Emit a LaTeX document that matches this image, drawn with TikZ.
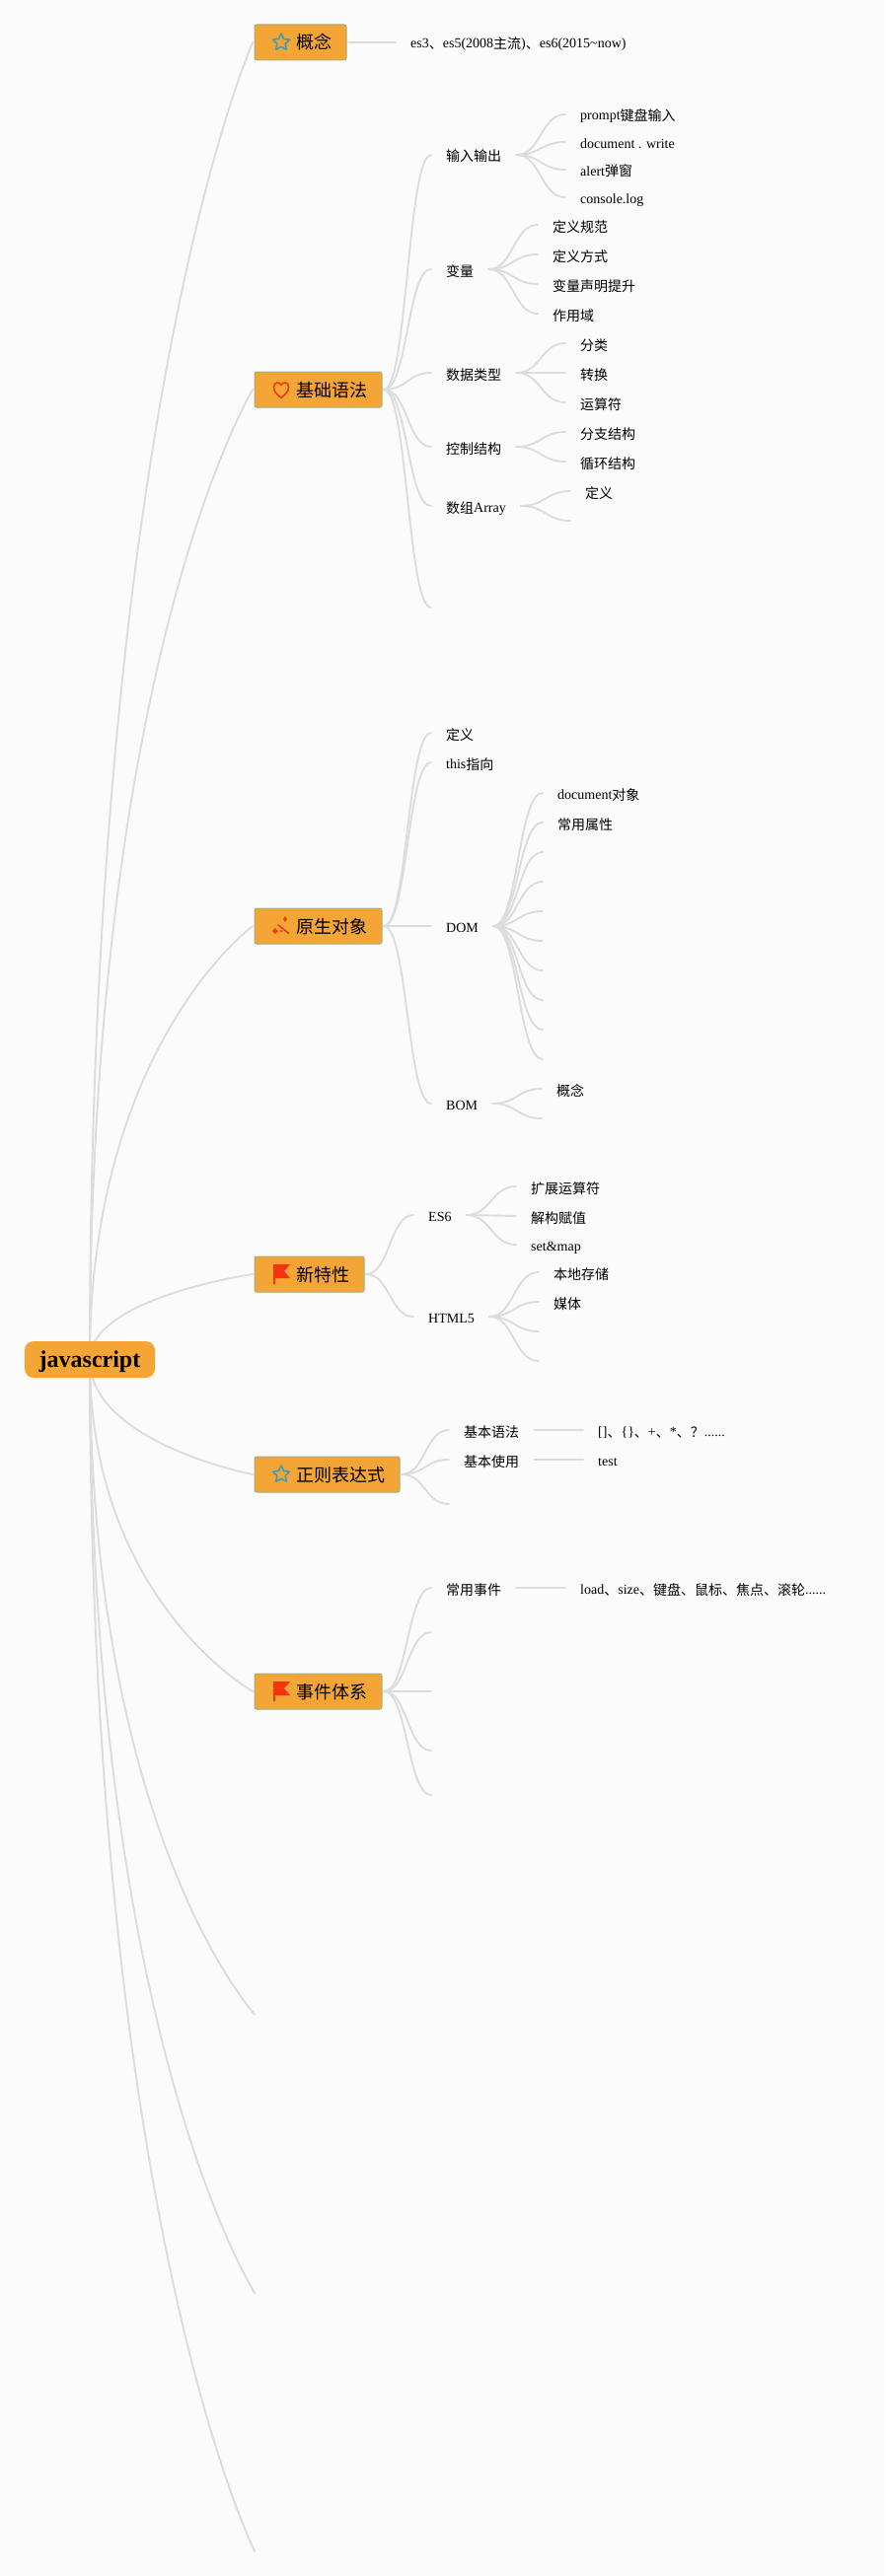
\documentclass[tikz,border=0pt]{standalone}
\usepackage{fontspec}
\setmainfont{Liberation Serif}
\newfontfamily\cjk{Noto Sans CJK SC}
\usetikzlibrary{calc,backgrounds}
\newcommand{\CJ}[1]{\raisebox{-1pt}{\cjk #1}}
\newcommand{\CT}[1]{{\cjk #1}}
\definecolor{pagebg}{HTML}{FBFBFB}
\definecolor{linkc}{HTML}{DCDCDC}
\definecolor{boxfill}{HTML}{F5A535}
\definecolor{boxedge}{HTML}{9CAF7E}
\definecolor{starc}{HTML}{3F9DB0}
\definecolor{redc}{HTML}{E5430E}
\definecolor{flagc}{HTML}{F5330F}
\tikzset{
  link/.style={draw=linkc,line width=1.9pt,line cap=round},
  txt/.style={anchor=west,inner xsep=15pt,inner ysep=0pt,text height=12pt,text depth=0pt,
    font=\fontsize{14}{16}\selectfont},
  topic/.style={anchor=west,draw=boxedge,fill=boxfill,line width=1pt,rounded corners=2pt,
    minimum height=36pt,inner xsep=0pt,inner ysep=0pt,outer xsep=2pt,text height=14pt,text depth=0pt,
    font=\fontsize{18}{20}\selectfont},
  rootbox/.style={fill=boxfill,rounded corners=9pt,minimum height=37pt,inner xsep=14.7pt,inner ysep=0pt,
    text height=16pt,text depth=0pt,font=\fontsize{24}{26}\selectfont\bfseries},
  staricon/.pic={\draw[starc,line width=1.6pt,line join=round]
    (0,-9)--(2.59,-3.56)--(8.56,-2.78)--(4.18,1.36)--(5.29,7.28)--(0,4.4)--(-5.29,7.28)--(-4.18,1.36)--(-8.56,-2.78)--(-2.59,-3.56)--cycle;},
  hearticon/.pic={\draw[redc,line width=1.6pt,line join=round]
    (0,8) .. controls (-4,4.5) and (-7.6,1.5) .. (-7.6,-3) .. controls (-7.6,-6) and (-5.5,-7.6) .. (-3.8,-7.6)
    .. controls (-2,-7.6) and (-0.7,-6.5) .. (0,-5) .. controls (0.7,-6.5) and (2,-7.6) .. (3.8,-7.6)
    .. controls (5.5,-7.6) and (7.6,-6) .. (7.6,-3) .. controls (7.6,1.5) and (4,4.5) .. (0,8) -- cycle;},
  wandicon/.pic={\draw[redc,line width=1.7pt] (-3.3,-1.3)--(8,7.7);
    \fill[redc] (4,-10)--(6,-7)--(4,-4)--(2,-7)--cycle;
    \fill[redc] (-6,2)--(-3,5)--(-6,8)--(-9,5)--cycle;
    \fill[redc] (0,3.5)--(1.3,5)--(0,6.5)--(-1.3,5)--cycle;},
  flagicon/.pic={\fill[flagc] (-8.5,-10)--(8.5,-10)--(2.5,-3)--(8.5,4)--(-6.5,4)--(-6.5,10)--(-8.5,10)--cycle;},
}
\newcommand{\tp}[1]{\rule{42pt}{0pt}\CT{#1}\rule{15pt}{0pt}}
\newcommand{\lf}[4]{\node[txt] (#1) at (#2,#3) {#4};}
\newcommand{\cv}[2]{\draw[link] (#1) .. controls ($(#1)!.5!(#1 -| #2)$) and ($(#2)!.5!(#1 |- #2)$) .. (#2);}
\newcommand{\rc}[1]{\draw[link] let \p1=(root.center), \p2=(#1) in
  (root.center) .. controls (\x1,{\y1+.59*(\y2-\y1)}) and ({\x1+.67*(\x2-\x1)},{\y1+.9*(\y2-\y1)}) .. (#1);}
\begin{document}
\begin{tikzpicture}[x=1pt,y=-1pt]
\useasboundingbox (0,0) rectangle (897,2612);

\node[rootbox] (root) at (91,1378.5) {javascript};

\node[topic] (t1) at (256,43) {\tp{概念}};
\node[topic] (t2) at (256,395) {\tp{基础语法}};
\node[topic] (t3) at (256,939) {\tp{原生对象}};
\node[topic] (t4) at (256,1292) {\tp{新特性}};
\node[topic] (t5) at (256,1495) {\tp{正则表达式}};
\node[topic] (t6) at (256,1715) {\tp{事件体系}};
\path (285,43) pic {staricon};
\path (285,395.5) pic {hearticon};
\path (285,939) pic {wandicon};
\path (285.5,1292) pic {flagicon};
\path (285,1495) pic {staricon};
\path (285.5,1715) pic {flagicon};

\coordinate (r7) at (258,2042.5);
\coordinate (r8) at (258,2325);
\coordinate (r9) at (258,2587);

% concept
\lf{c1}{401}{43}{es3\CJ{、}es5(2008\CJ{主流})\CJ{、}es6(2015\textasciitilde now)}

% basic syntax
\lf{a1}{437}{157}{\CJ{输入输出}}
\lf{a2}{437}{273}{\CJ{变量}}
\lf{a3}{437}{378}{\CJ{数据类型}}
\lf{a4}{437}{453}{\CJ{控制结构}}
\lf{a5}{437}{513}{\CJ{数组}Array}
\coordinate (a6) at (437,616);
\lf{a11}{573}{116}{prompt\CJ{键盘输入}}
\lf{a12}{573}{144}{document . write}
\lf{a13}{573}{172}{alert\CJ{弹窗}}
\lf{a14}{573}{200}{console.log}
\lf{a21}{545}{228}{\CJ{定义规范}}
\lf{a22}{545}{258}{\CJ{定义方式}}
\lf{a23}{545}{288}{\CJ{变量声明提升}}
\lf{a24}{545}{318}{\CJ{作用域}}
\lf{a31}{573}{348}{\CJ{分类}}
\lf{a32}{573}{378}{\CJ{转换}}
\lf{a33}{573}{408}{\CJ{运算符}}
\lf{a41}{573}{438}{\CJ{分支结构}}
\lf{a42}{573}{468}{\CJ{循环结构}}
\lf{a51}{578}{498}{\CJ{定义}}
\coordinate (a52) at (578,528);

% native objects
\lf{b1}{437}{743}{\CJ{定义}}
\lf{b2}{437}{773}{this\CJ{指向}}
\lf{b3}{437}{939}{DOM}
\lf{b4}{437}{1119}{BOM}
\lf{b31}{550}{804}{document\CJ{对象}}
\lf{b32}{550}{834}{\CJ{常用属性}}
\coordinate (b33) at (550,864);
\coordinate (b34) at (550,894);
\coordinate (b35) at (550,924);
\coordinate (b36) at (550,954);
\coordinate (b37) at (550,984);
\coordinate (b38) at (550,1014);
\coordinate (b39) at (550,1044);
\coordinate (b310) at (550,1074);
\lf{b41}{549}{1104}{\CJ{概念}}
\coordinate (b42) at (549,1134);

% new features
\lf{d1}{419}{1232}{ES6}
\lf{d2}{419}{1335}{HTML5}
\lf{d11}{523}{1203}{\CJ{扩展运算符}}
\lf{d12}{523}{1233}{\CJ{解构赋值}}
\lf{d13}{523}{1262}{set\&map}
\lf{d21}{546}{1290}{\CJ{本地存储}}
\lf{d22}{546}{1320}{\CJ{媒体}}
\coordinate (d23) at (546,1350);
\coordinate (d24) at (546,1380);

% regex
\lf{e1}{455}{1450}{\CJ{基本语法}}
\lf{e2}{455}{1480}{\CJ{基本使用}}
\coordinate (e3) at (455,1525);
\lf{e11}{591}{1450}{[]\CJ{、}\{\}\CJ{、}+\CJ{、}*\CJ{、？}......}
\lf{e21}{591}{1480}{test}

% events
\lf{f1}{437}{1610}{\CJ{常用事件}}
\coordinate (f2) at (437,1655);
\coordinate (f3) at (437,1715);
\coordinate (f4) at (437,1775);
\coordinate (f5) at (437,1820);
\lf{f11}{573}{1610}{load\CJ{、}size\CJ{、键盘、鼠标、焦点、滚轮}......}

\begin{pgfonlayer}{background}
\fill[pagebg] (0,0) rectangle (897,2612);
\rc{t1.west}\rc{t2.west}\rc{t3.west}\rc{t4.west}\rc{t5.west}\rc{t6.west}
\rc{r7}\rc{r8}\rc{r9}
\draw[link] (t1.east) -- (c1.west);
\cv{t2.east}{a1.west}\cv{t2.east}{a2.west}\cv{t2.east}{a3.west}\cv{t2.east}{a4.west}\cv{t2.east}{a5.west}\cv{t2.east}{a6}
\cv{a1.east}{a11.west}\cv{a1.east}{a12.west}\cv{a1.east}{a13.west}\cv{a1.east}{a14.west}
\cv{a2.east}{a21.west}\cv{a2.east}{a22.west}\cv{a2.east}{a23.west}\cv{a2.east}{a24.west}
\cv{a3.east}{a31.west}\cv{a3.east}{a32.west}\cv{a3.east}{a33.west}
\cv{a4.east}{a41.west}\cv{a4.east}{a42.west}
\cv{a5.east}{a51.west}\cv{a5.east}{a52}
\cv{t3.east}{b1.west}\cv{t3.east}{b2.west}\cv{t3.east}{b3.west}\cv{t3.east}{b4.west}
\cv{b3.east}{b31.west}\cv{b3.east}{b32.west}\cv{b3.east}{b33}\cv{b3.east}{b34}\cv{b3.east}{b35}
\cv{b3.east}{b36}\cv{b3.east}{b37}\cv{b3.east}{b38}\cv{b3.east}{b39}\cv{b3.east}{b310}
\cv{b4.east}{b41.west}\cv{b4.east}{b42}
\cv{t4.east}{d1.west}\cv{t4.east}{d2.west}
\cv{d1.east}{d11.west}\cv{d1.east}{d12.west}\cv{d1.east}{d13.west}
\cv{d2.east}{d21.west}\cv{d2.east}{d22.west}\cv{d2.east}{d23}\cv{d2.east}{d24}
\cv{t5.east}{e1.west}\cv{t5.east}{e2.west}\cv{t5.east}{e3}
\draw[link] (e1.east) -- (e11.west);
\draw[link] (e2.east) -- (e21.west);
\cv{t6.east}{f1.west}\cv{t6.east}{f2}\cv{t6.east}{f3}\cv{t6.east}{f4}\cv{t6.east}{f5}
\draw[link] (f1.east) -- (f11.west);
\end{pgfonlayer}
\end{tikzpicture}
\end{document}
